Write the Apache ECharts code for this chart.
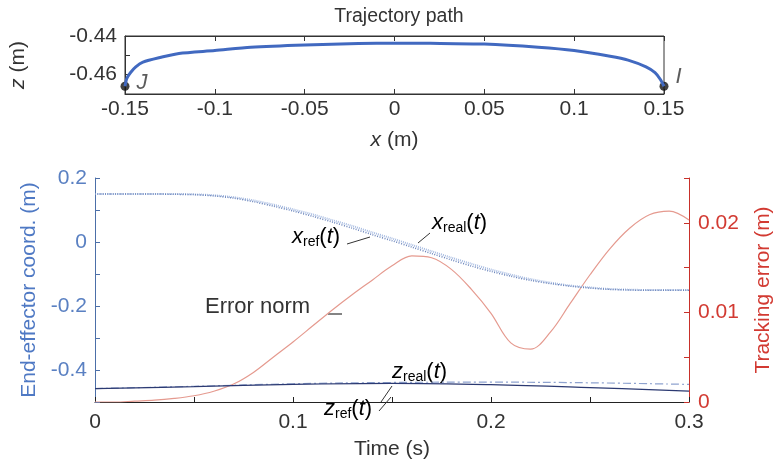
<!DOCTYPE html>
<html><head><meta charset="utf-8">
<script src="https://cdn.jsdelivr.net/npm/echarts@6/dist/echarts.min.js"></script>
<style>html,body{margin:0;padding:0;background:#fff}#c{width:782px;height:465px}</style>
</head><body><div id="c"></div><script>
// Planar path of the end effector (x, z in metres)
const pathX = [-0.15, -0.149, -0.147, -0.144, -0.14, -0.13, -0.12, -0.1, -0.08, -0.05, -0.02, 0, 0.02, 0.05, 0.08, 0.1, 0.12, 0.13, 0.14, 0.145, 0.148, 0.15];
const pathZ = [-0.466, -0.462, -0.459, -0.456, -0.4535, -0.451, -0.449, -0.4475, -0.4458, -0.4446, -0.4439, -0.4437, -0.4438, -0.4442, -0.4458, -0.4475, -0.4505, -0.4525, -0.456, -0.459, -0.4625, -0.466];
const pathEndX = [-0.15, 0.15];
const pathEndZ = [-0.466, -0.466];
const pathEndNames = ['J', 'I'];

// Time histories (s)
const timeX = [0, 0.01, 0.02, 0.03, 0.04, 0.05, 0.06, 0.07, 0.08, 0.09, 0.10, 0.11, 0.12, 0.13, 0.14, 0.15, 0.16, 0.17, 0.18, 0.19, 0.20, 0.21, 0.22, 0.23, 0.24, 0.25, 0.26, 0.27, 0.28, 0.29, 0.30];
const xRef = [0.150, 0.150, 0.150, 0.150, 0.149, 0.148, 0.144, 0.137, 0.126, 0.112, 0.097, 0.080, 0.062, 0.043, 0.023, 0.004, -0.016, -0.036, -0.056, -0.075, -0.092, -0.107, -0.120, -0.130, -0.138, -0.144, -0.148, -0.150, -0.151, -0.151, -0.151];
const xReal = [0.150, 0.150, 0.150, 0.150, 0.150, 0.149, 0.146, 0.140, 0.130, 0.117, 0.102, 0.086, 0.068, 0.050, 0.030, 0.011, -0.009, -0.029, -0.049, -0.068, -0.086, -0.102, -0.116, -0.127, -0.136, -0.142, -0.147, -0.149, -0.150, -0.150, -0.150];
const errNorm = [0, 0, 0.0001, 0.0002, 0.0004, 0.0007, 0.0012, 0.002, 0.0033, 0.005, 0.0067, 0.0085, 0.0103, 0.012, 0.0136, 0.0152, 0.0163, 0.0161, 0.0148, 0.0126, 0.0099, 0.0066, 0.0059, 0.0078, 0.011, 0.0142, 0.0171, 0.0194, 0.0209, 0.0213, 0.0203];
const timeZ = [0, 0.05, 0.10, 0.15, 0.20, 0.25, 0.30];
const zRef = [-0.458, -0.452, -0.445, -0.442, -0.446, -0.455, -0.466];
const zReal = [-0.458, -0.451, -0.443, -0.439, -0.438, -0.440, -0.445];

// Tick labels
const pathXTicks = [-0.15, -0.1, -0.05, 0, 0.05, 0.1, 0.15];
const pathZLabels = [-0.44, -0.46];
const timeLabels = [0, 0.1, 0.2, 0.3];
const coordLabels = [0.2, 0, -0.2, -0.4];
const errLabels = [0, 0.01, 0.02];

const FONT = 'Liberation Sans, Arial, sans-serif';
const BLUE = '#4f79c4';
const RED = '#d23a32';
const DARK = '#333';
const TICK_FS = 21;
const NAME_FS = 21;
const pick = (list, digits) => v => {
  const hit = list.find(t => Math.abs(t - v) < 1e-9);
  return hit === undefined ? '' : String(+hit.toFixed(digits));
};
const zip = (a, b) => a.map((v, i) => [v, b[i]]);
const ital = { fontStyle: 'italic', fontFamily: FONT, fontSize: NAME_FS, color: DARK };

const chart = echarts.init(document.getElementById('c'), null, { renderer: 'canvas' });

// rich styles for curve annotations such as x_ref(t)
const richLbl = {
  i: { fontStyle: 'italic', fontFamily: FONT, fontSize: 22, color: DARK },
  s: { fontFamily: FONT, fontSize: 14, color: DARK, padding: [10, 0, 0, 0] },
  n: { fontFamily: FONT, fontSize: 22, color: DARK }
};

const boxAxis = (color) => ({
  axisLine: { onZero: false, lineStyle: { color } },
  axisTick: { inside: true, length: 5, lineStyle: { color } },
  splitLine: { show: false }
});

chart.setOption({
  animation: false,
  textStyle: { fontFamily: FONT },
  title: {
    text: 'Trajectory path', left: 394, top: 2, textAlign: 'center',
    textStyle: { fontSize: 19.5, fontWeight: 'normal', color: DARK, fontFamily: FONT }
  },
  grid: [
    { left: 121, width: 543, top: 36, height: 58, show: true, borderColor: '#333', borderWidth: 1, backgroundColor: 'transparent' },
    { left: 95, width: 598, top: 178, height: 234 }
  ],
  xAxis: [
    Object.assign(boxAxis('#333'), {
      gridIndex: 0, type: 'value', min: -0.15, max: 0.15, interval: 0.05,
      axisLabel: { fontSize: TICK_FS, color: DARK, margin: 5, formatter: pick(pathXTicks, 2), showMinLabel: true, showMaxLabel: true },
      name: '{i|x} (m)', nameLocation: 'middle', nameGap: 36,
      nameTextStyle: { fontSize: NAME_FS, color: DARK, rich: { i: ital } }
    }),
    Object.assign(boxAxis('#333'), {
      gridIndex: 0, type: 'value', position: 'top', min: -0.15, max: 0.15, interval: 0.05,
      axisLabel: { show: false }
    }),
    Object.assign(boxAxis('#222'), {
      gridIndex: 1, type: 'value', min: 0, max: 0.3, interval: 0.05,
      axisLabel: { fontSize: TICK_FS, color: DARK, margin: 10, formatter: pick(timeLabels, 1), showMinLabel: true, showMaxLabel: true },
      name: 'Time (s)', nameLocation: 'middle', nameGap: 37,
      nameTextStyle: { fontSize: NAME_FS, color: DARK }
    })
  ],
  yAxis: [
    Object.assign(boxAxis('#333'), {
      gridIndex: 0, type: 'value', min: -0.47, max: -0.44, interval: 0.01,
      axisLabel: { fontSize: TICK_FS, color: DARK, margin: 8, formatter: pick(pathZLabels, 2), showMinLabel: true, showMaxLabel: true },
      name: '{i|z} (m)', nameLocation: 'middle', nameGap: 96, nameRotate: 90,
      nameTextStyle: { fontSize: NAME_FS, color: DARK, rich: { i: ital } }
    }),
    Object.assign(boxAxis('#4c6fa8'), {
      gridIndex: 1, type: 'value', min: -0.5, max: 0.2, interval: 0.1,
      axisLabel: { fontSize: TICK_FS, color: '#5a80c2', margin: 8, formatter: pick(coordLabels, 1), showMinLabel: true, showMaxLabel: true },
      name: 'End-effector coord. (m)', nameLocation: 'middle', nameGap: 38, nameRotate: 90,
      nameTextStyle: { fontSize: NAME_FS, color: BLUE }
    }),
    Object.assign(boxAxis('#c8302a'), {
      gridIndex: 1, type: 'value', position: 'right', min: 0, max: 0.025, interval: 0.005,
      axisLabel: { fontSize: TICK_FS, color: RED, margin: 9, formatter: pick(errLabels, 2), showMinLabel: true, showMaxLabel: true },
      name: 'Tracking error (m)', nameLocation: 'middle', nameGap: 64, nameRotate: 90,
      nameTextStyle: { fontSize: NAME_FS, color: RED }
    })
  ],
  series: [
    {
      name: 'path', type: 'line', xAxisIndex: 0, yAxisIndex: 0, smooth: 0.25, symbol: 'none',
      lineStyle: { color: '#4169c0', width: 3 },
      data: zip(pathX, pathZ)
    },
    {
      name: 'ends', type: 'scatter', xAxisIndex: 0, yAxisIndex: 0, symbolSize: 9,
      itemStyle: { color: '#111' },
      label: { show: true, position: 'right', distance: 7, fontSize: 22, fontStyle: 'italic', color: DARK, formatter: p => p.name },
      data: pathEndX.map((x, i) => ({
        name: pathEndNames[i], value: [x, pathEndZ[i]],
        label: { offset: i === 0 ? [0, -3] : [0, -9] }
      }))
    },
    {
      name: 'error', type: 'line', xAxisIndex: 2, yAxisIndex: 2, smooth: 0.35, symbol: 'none',
      lineStyle: { color: '#e59a8f', width: 1.2 },
      data: zip(timeX, errNorm), z: 1
    },
    {
      name: 'zReal', type: 'line', xAxisIndex: 2, yAxisIndex: 1, smooth: 0.4, symbol: 'none',
      lineStyle: { color: '#8fa3cf', width: 1.2, type: [8, 3, 2, 3] },
      data: zip(timeZ, zReal), z: 2
    },
    {
      name: 'zRef', type: 'line', xAxisIndex: 2, yAxisIndex: 1, smooth: 0.4, symbol: 'none',
      lineStyle: { color: '#2c3a72', width: 1.3 },
      data: zip(timeZ, zRef), z: 3
    },
    {
      name: 'xReal', type: 'line', xAxisIndex: 2, yAxisIndex: 1, smooth: 0.3, symbol: 'none',
      lineStyle: { color: '#a9bde2', width: 2, type: [1, 1] },
      data: zip(timeX, xReal), z: 2
    },
    {
      name: 'xRef', type: 'line', xAxisIndex: 2, yAxisIndex: 1, smooth: 0.3, symbol: 'none',
      lineStyle: { color: '#6a84bb', width: 1.5, type: [1, 1.5] },
      data: zip(timeX, xRef), z: 3
    }
  ],
  graphic: [
    { type: 'text', left: 292, top: 226, style: { text: '{i|x}{s|ref}{n|(}{i|t}{n|)}', rich: richLbl } },
    { type: 'line', shape: { x1: 347, y1: 244, x2: 370, y2: 237 }, style: { stroke: '#333', lineWidth: 1 } },
    { type: 'text', left: 432, top: 212, style: { text: '{i|x}{s|real}{n|(}{i|t}{n|)}', rich: richLbl } },
    { type: 'line', shape: { x1: 418, y1: 243, x2: 430, y2: 233 }, style: { stroke: '#333', lineWidth: 1 } },
    { type: 'text', left: 205, top: 296, style: { text: 'Error norm', font: '22px ' + FONT, fill: DARK } },
    { type: 'line', shape: { x1: 328, y1: 314, x2: 342, y2: 314 }, style: { stroke: '#333', lineWidth: 1.2 } },
    { type: 'text', left: 392, top: 361, style: { text: '{i|z}{s|real}{n|(}{i|t}{n|)}', rich: richLbl } },
    { type: 'line', shape: { x1: 381, y1: 402, x2: 392, y2: 386 }, style: { stroke: '#333', lineWidth: 1 } },
    { type: 'rect', shape: { x: 324, y: 404, width: 54, height: 20 }, style: { fill: '#fff' }, z: 50 },
    { type: 'text', left: 324, top: 398, z: 60, style: { text: '{i|z}{s|ref}{n|(}{i|t}{n|)}', rich: richLbl } },
    { type: 'line', z: 60, shape: { x1: 379, y1: 411, x2: 391, y2: 397 }, style: { stroke: '#333', lineWidth: 1 } }
  ]
});
</script></body></html>
